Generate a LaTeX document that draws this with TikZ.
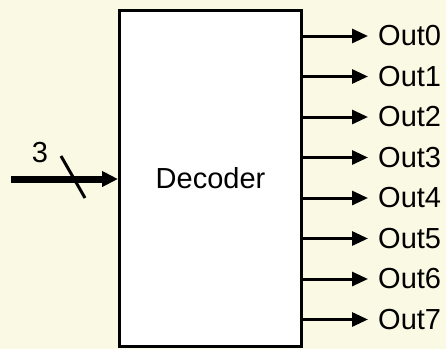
\documentclass[tikz,border=0pt]{standalone}
\usepackage{fontspec}
\setmainfont{Liberation Sans}
\usepackage{xcolor}
\usetikzlibrary{arrows.meta,calc,positioning}
\definecolor{dccream}{HTML}{FAFAE4}
\tikzset{
  decbox/.style={
    draw=black,
    fill=white,
    line width=3pt,
    minimum width=182pt,
    minimum height=336pt,
    inner sep=0pt,
    font=\fontsize{29}{34}\selectfont
  },
  outlabel/.style={anchor=west, inner sep=2pt, font=\fontsize{29}{34}\selectfont},
  widthlabel/.style={inner sep=0pt, font=\fontsize{29}{34}\selectfont},
  outflow/.style={
    -{Triangle[length=16pt,width=14pt]},
    line width=3pt,
    shorten >=8pt,
    draw=black
  },
  busflow/.style={
    -{Triangle[length=16pt,width=15pt]},
    line width=7pt,
    draw=black
  },
  busmark/.style={line width=3pt, draw=black}
}

\begin{document}
\begin{tikzpicture}[x=1pt,y=1pt]
  \fill[dccream] (0,0) rectangle (446,-349);
  \useasboundingbox (0,0) rectangle (446,-349);

  \node[decbox] (dec) at (210.5,-178) {Decoder};

  % outputs
  \node[outlabel] (out0) at (376,-36) {Out0};
  \node[outlabel] (out1) at (376,-76.5) {Out1};
  \node[outlabel] (out2) at (376,-117) {Out2};
  \node[outlabel] (out3) at (376,-157.5) {Out3};
  \node[outlabel] (out4) at (376,-198) {Out4};
  \node[outlabel] (out5) at (376,-238.5) {Out5};
  \node[outlabel] (out6) at (376,-279) {Out6};
  \node[outlabel] (out7) at (376,-319.5) {Out7};

  \draw[outflow] (dec.east |- out0.west) -- (out0.west);
  \draw[outflow] (dec.east |- out1.west) -- (out1.west);
  \draw[outflow] (dec.east |- out2.west) -- (out2.west);
  \draw[outflow] (dec.east |- out3.west) -- (out3.west);
  \draw[outflow] (dec.east |- out4.west) -- (out4.west);
  \draw[outflow] (dec.east |- out5.west) -- (out5.west);
  \draw[outflow] (dec.east |- out6.west) -- (out6.west);
  \draw[outflow] (dec.east |- out7.west) -- (out7.west);

  % 3-bit input bus
  \coordinate (busin) at (11,-179);
  \coordinate (buscut) at (73,-177);
  \draw[busflow] (busin) -- (dec.west |- busin);
  \draw[busmark] ([shift={(-12,21)}]buscut) -- ([shift={(12,-21)}]buscut);
  \node[widthlabel] (buswidth) at (40,-153) {3};
\end{tikzpicture}
\end{document}
